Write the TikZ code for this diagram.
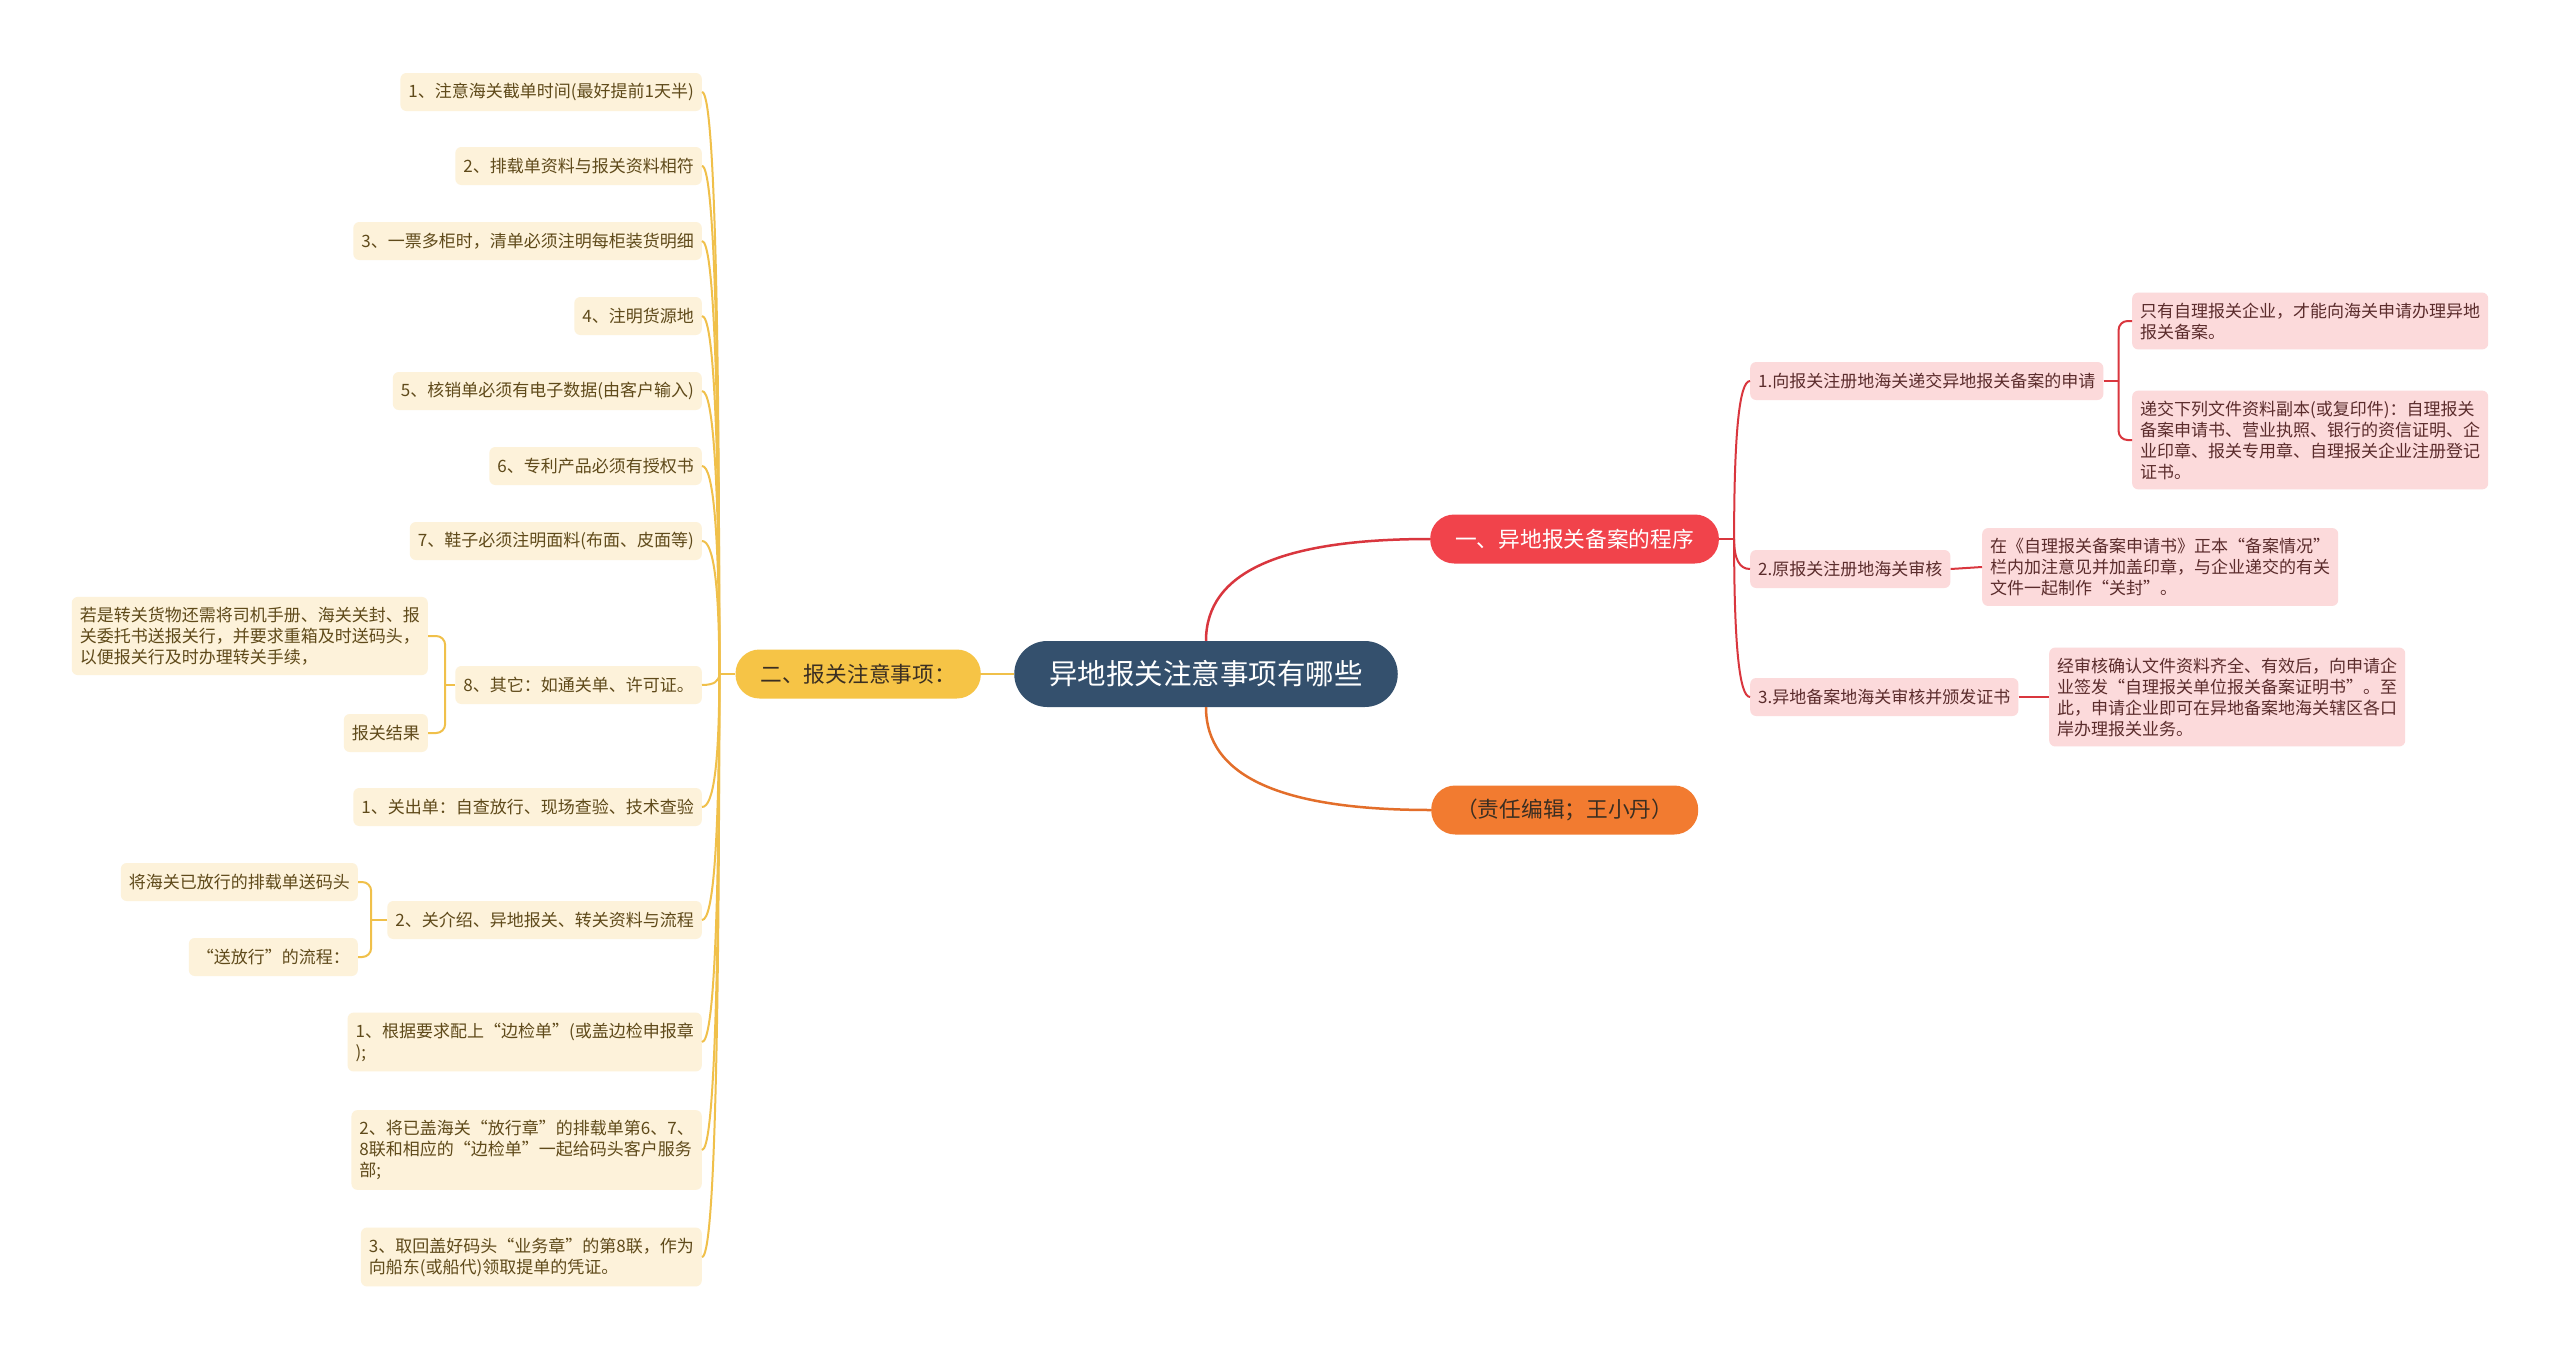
\documentclass[tikz,border=0pt]{standalone}
\usepackage{fontspec}
\setmainfont{Noto Sans CJK SC}
\usetikzlibrary{calc}

\definecolor{rootblue}{HTML}{34506D}
\definecolor{redmain}{HTML}{F1434B}
\definecolor{orangemain}{HTML}{F27B30}
\definecolor{yellowmain}{HTML}{F6C446}
\definecolor{darktext}{HTML}{3A2E22}
\definecolor{leafyellow}{HTML}{FDF2DA}
\definecolor{leaftext}{HTML}{5F4A1A}
\definecolor{leafpink}{HTML}{FCDADB}
\definecolor{pinktext}{HTML}{5B2C2C}
\definecolor{lineyellow}{HTML}{F0C04A}
\definecolor{linered}{HTML}{D9363E}
\definecolor{lineorange}{HTML}{E36E2A}

\tikzset{
  rootnode/.style={fill=rootblue, text=white, rounded corners=33pt, minimum height=66pt, inner xsep=35pt, font=\fontsize{28.5}{32}\selectfont},
  mainnode/.style={rounded corners=24pt, minimum height=49pt, inner xsep=25pt, font=\fontsize{21.7}{26}\selectfont},
  leafy/.style={fill=leafyellow, text=leaftext, rounded corners=6pt, inner xsep=8pt, inner ysep=10pt, minimum height=38pt, align=left, font=\fontsize{17}{21}\selectfont},
  leafr/.style={leafy, fill=leafpink, text=pinktext},
  yline/.style={draw=lineyellow, line width=2pt},
  rline/.style={draw=linered, line width=2pt},
}

% curved branch: vertical first, then into the node
\newcommand{\fanto}[3]{\draw[#1] (#2) .. controls ($(#2)!0.67!(#2|-#3)$) and ($(#3)!0.67!(#2|-#3)$) .. (#3);}

\begin{document}
\begin{tikzpicture}[x=1pt,y=-1pt]
\fill[white] (0,0) rectangle (2560,1360);
\useasboundingbox (0,0) rectangle (2560,1360);

% centre and main branches
\node[rootnode] (root) at (1206,674) {异地报关注意事项有哪些};
\node[mainnode, fill=redmain, text=white, anchor=west] (fa) at (1430,539) {一、异地报关备案的程序};
\node[mainnode, fill=orangemain, text=darktext, anchor=west] (ed) at (1431,810) {（责任编辑；王小丹）};
\node[mainnode, fill=yellowmain, text=darktext, anchor=east] (er) at (981,674) {二、报关注意事项：};

% left side
\node[leafy, anchor=east] (y1) at (702,92) {1、注意海关截单时间(最好提前1天半)};
\node[leafy, anchor=east] (y2) at (702,166) {2、排载单资料与报关资料相符};
\node[leafy, anchor=east] (y3) at (702,241) {3、一票多柜时，清单必须注明每柜装货明细};
\node[leafy, anchor=east] (y4) at (702,316) {4、注明货源地};
\node[leafy, anchor=east] (y5) at (702,391) {5、核销单必须有电子数据(由客户输入)};
\node[leafy, anchor=east] (y6) at (702,466) {6、专利产品必须有授权书};
\node[leafy, anchor=east] (y7) at (702,541) {7、鞋子必须注明面料(布面、皮面等)};
\node[leafy, anchor=east] (y8) at (702,685) {8、其它：如通关单、许可证。};
\node[leafy, anchor=east] (y8a) at (428,636) {若是转关货物还需将司机手册、海关关封、报\\关委托书送报关行，并要求重箱及时送码头，\\以便报关行及时办理转关手续，};
\node[leafy, anchor=east] (y8b) at (428,733) {报关结果};
\node[leafy, anchor=east] (y9) at (702,807) {1、关出单：自查放行、现场查验、技术查验};
\node[leafy, anchor=east] (y10) at (702,920) {2、关介绍、异地报关、转关资料与流程};
\node[leafy, anchor=east] (y10a) at (358,882) {将海关已放行的排载单送码头};
\node[leafy, anchor=east] (y10b) at (358,957) {“送放行”的流程：};
\node[leafy, anchor=east] (y11) at (702,1042) {1、根据要求配上“边检单”(或盖边检申报章\\);};
\node[leafy, anchor=east] (y12) at (702,1150) {2、将已盖海关“放行章”的排载单第6、7、\\8联和相应的“边检单”一起给码头客户服务\\部;};
\node[leafy, anchor=east] (y13) at (702,1257) {3、取回盖好码头“业务章”的第8联，作为\\向船东(或船代)领取提单的凭证。};

% right side
\node[leafr, anchor=west] (r1) at (1750,381) {1.向报关注册地海关递交异地报关备案的申请};
\node[leafr, anchor=west] (r2) at (1750,569) {2.原报关注册地海关审核};
\node[leafr, anchor=west] (r3) at (1750,697) {3.异地备案地海关审核并颁发证书};
\node[leafr, anchor=west] (g1) at (2132,321) {只有自理报关企业，才能向海关申请办理异地\\报关备案。};
\node[leafr, anchor=west] (g2) at (2132,440) {递交下列文件资料副本(或复印件)：自理报关\\备案申请书、营业执照、银行的资信证明、企\\业印章、报关专用章、自理报关企业注册登记\\证书。};
\node[leafr, anchor=west] (g3) at (1982,567) {在《自理报关备案申请书》正本“备案情况”\\栏内加注意见并加盖印章，与企业递交的有关\\文件一起制作“关封”。};
\node[leafr, anchor=west] (g4) at (2049,697) {经审核确认文件资料齐全、有效后，向申请企\\业签发“自理报关单位报关备案证明书”。至\\此，申请企业即可在异地备案地海关辖区各口\\岸办理报关业务。};

% connectors from the centre
\draw[draw=lineyellow, line width=2.5pt] (root.west) -- (er.east);
\fanto{draw=linered, line width=2.5pt}{root.north}{fa.west}
\fanto{draw=lineorange, line width=2.5pt}{root.south}{ed.west}

% left fan
\coordinate (jy) at ([xshift=-16pt]er.west);
\draw[yline] (er.west) -- (jy);
\foreach \i in {1,...,13} \fanto{yline}{jy}{y\i.east}
\coordinate (b8) at ([xshift=-10pt]y8.west);
\draw[yline] (y8.west) -- (b8);
\foreach \n in {y8a,y8b} \draw[yline, rounded corners=9pt] (b8) |- (\n.east);
\coordinate (b10) at ([xshift=-16pt]y10.west);
\draw[yline] (y10.west) -- (b10);
\foreach \n in {y10a,y10b} \draw[yline, rounded corners=9pt] (b10) |- (\n.east);

% right fan
\coordinate (jr) at ([xshift=15pt]fa.east);
\draw[rline] (fa.east) -- (jr);
\foreach \i in {1,2,3} \fanto{rline}{jr}{r\i.west}
\coordinate (br1) at ([xshift=15pt]r1.east);
\draw[rline] (r1.east) -- (br1);
\foreach \n in {g1,g2} \draw[rline, rounded corners=9pt] (br1) |- (\n.west);
\draw[rline] (r2.east) -- (g3.west);
\draw[rline] (r3.east) -- (g4.west);
\end{tikzpicture}
\end{document}
